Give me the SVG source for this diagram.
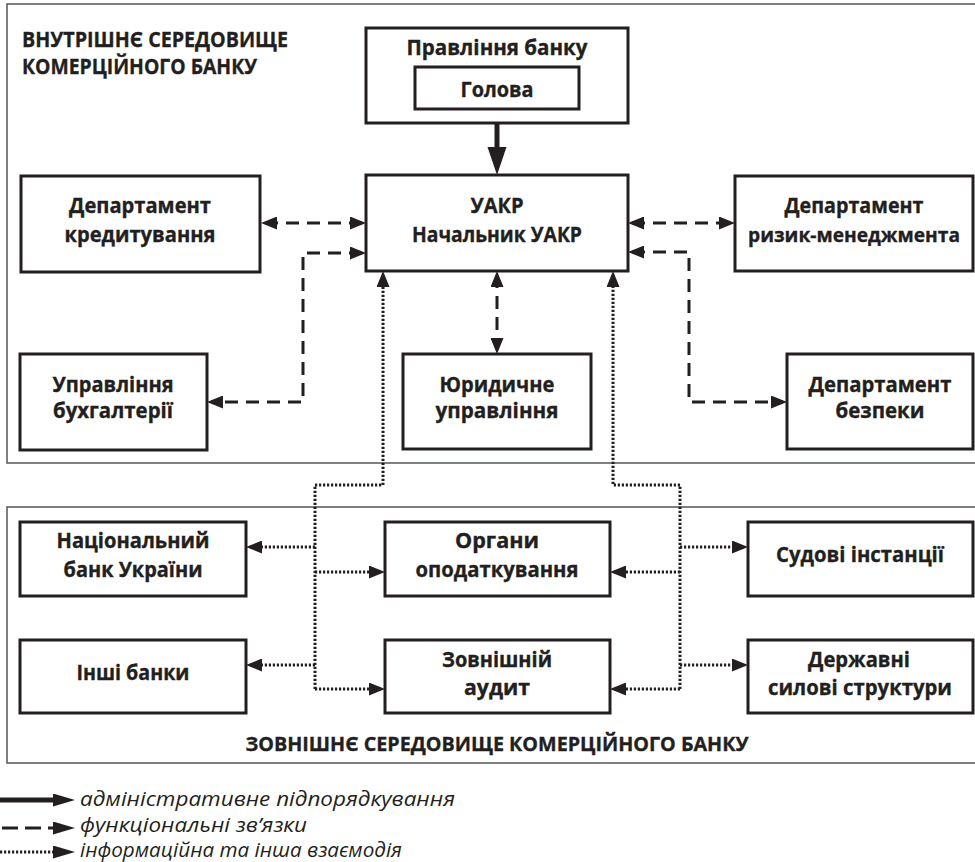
<svg xmlns="http://www.w3.org/2000/svg" width="975" height="862" viewBox="0 0 975 862">
<defs>
<style>
.env{fill:none;stroke:#555;stroke-width:1.5}
.box{fill:#fff;stroke:#231f20;stroke-width:3}
.t{font-family:"Open Sans","Noto Sans","DejaVu Sans",sans-serif;font-weight:700;font-size:21px;fill:#231f20;stroke:#231f20;stroke-width:0.35;text-anchor:middle}
.h{font-family:"Open Sans","Noto Sans","DejaVu Sans",sans-serif;font-weight:700;font-size:22px;fill:#231f20;stroke:#231f20;stroke-width:0.35}
.lg{font-family:"Open Sans","Noto Sans","DejaVu Sans",sans-serif;font-style:italic;font-size:19.5px;fill:#231f20}
.dash{fill:none;stroke:#231f20;stroke-width:3;stroke-dasharray:13 8}
.dot{fill:none;stroke:#231f20;stroke-width:3;stroke-dasharray:2.2 1.8}
.solid{fill:none;stroke:#231f20;stroke-width:5}
</style>
<marker id="ah" markerUnits="userSpaceOnUse" markerWidth="17" markerHeight="13" refX="12" refY="6.5" orient="auto-start-reverse"><path d="M0,0 L16,6.5 L0,13 z" fill="#231f20"/></marker>
<marker id="ahThick" markerUnits="userSpaceOnUse" markerWidth="29" markerHeight="20" refX="20" refY="9.5" orient="auto"><path d="M0,0 L28,9.5 L0,19 z" fill="#231f20"/></marker>
<marker id="ahLeg" markerUnits="userSpaceOnUse" markerWidth="23" markerHeight="13" refX="4" refY="6.5" orient="auto"><path d="M0,0 L22,6.5 L0,13 z" fill="#231f20"/></marker>
</defs>

<rect class="env" x="7" y="4" width="975" height="459"/>
<rect class="env" x="7" y="507" width="975" height="256"/>
<text class="h" x="22" y="47" textLength="266" lengthAdjust="spacingAndGlyphs">ВНУТРІШНЄ СЕРЕДОВИЩЕ</text>
<text class="h" x="22" y="74" textLength="235" lengthAdjust="spacingAndGlyphs">КОМЕРЦІЙНОГО БАНКУ</text>
<text class="t" x="497" y="751" style="font-size:20px" textLength="503" lengthAdjust="spacingAndGlyphs">ЗОВНІШНЄ СЕРЕДОВИЩЕ КОМЕРЦІЙНОГО БАНКУ</text>

<g id="connectors">
<path class="solid" d="M497,123 L497,167" marker-end="url(#ahThick)"/>
<path class="dash" d="M265,223 L362,223" marker-start="url(#ah)" marker-end="url(#ah)"/>
<path class="dash" d="M632,223 L731,223" marker-start="url(#ah)" marker-end="url(#ah)"/>
<path class="dash" d="M362,253 L303,253 L303,402 L211,402" marker-start="url(#ah)" marker-end="url(#ah)"/>
<path class="dash" d="M497,275 L497,350" marker-start="url(#ah)" marker-end="url(#ah)"/>
<path class="dash" d="M632,252 L689,252 L689,402 L783,402" marker-start="url(#ah)" marker-end="url(#ah)"/>
<path class="dot" d="M315,689 L315,485 L383,485 L383,275" marker-end="url(#ah)"/>
<path class="dot" d="M315,547 L250,547" marker-end="url(#ah)"/>
<path class="dot" d="M315,572 L381,572" marker-end="url(#ah)"/>
<path class="dot" d="M315,665 L250,665" marker-end="url(#ah)"/>
<path class="dot" d="M315,689 L381,689" marker-end="url(#ah)"/>
<path class="dot" d="M680,689 L680,485 L613,485 L613,275" marker-end="url(#ah)"/>
<path class="dot" d="M680,547 L744,547" marker-end="url(#ah)"/>
<path class="dot" d="M680,572 L614,572" marker-end="url(#ah)"/>
<path class="dot" d="M680,665 L744,665" marker-end="url(#ah)"/>
<path class="dot" d="M680,689 L614,689" marker-end="url(#ah)"/>
</g>

<g id="pravlinnya">
<rect class="box" x="366" y="28" width="262" height="95"/>
<text class="t" x="497" y="55" textLength="181" lengthAdjust="spacingAndGlyphs">Правління банку</text>
<rect class="box" x="415" y="67" width="164" height="42"/>
<text class="t" x="497" y="97" textLength="73" lengthAdjust="spacingAndGlyphs">Голова</text>
</g>

<g id="uakr">
<rect class="box" x="366" y="175" width="262" height="96"/>
<text class="t" x="497" y="213" textLength="53" lengthAdjust="spacingAndGlyphs">УАКР</text>
<text class="t" x="497" y="242" textLength="170" lengthAdjust="spacingAndGlyphs">Начальник УАКР</text>
</g>

<g id="kredytuvannya">
<rect class="box" x="21" y="176" width="239" height="96"/>
<text class="t" x="140" y="213" textLength="142" lengthAdjust="spacingAndGlyphs">Департамент</text>
<text class="t" x="140" y="242" textLength="151" lengthAdjust="spacingAndGlyphs">кредитування</text>
</g>

<g id="ryzyk">
<rect class="box" x="735" y="176" width="238" height="95"/>
<text class="t" x="854" y="213" textLength="139" lengthAdjust="spacingAndGlyphs">Департамент</text>
<text class="t" x="854" y="242" style="font-size:19.5px" textLength="212" lengthAdjust="spacingAndGlyphs">ризик-менеджмента</text>
</g>

<g id="bukhalteriya">
<rect class="box" x="20" y="354" width="187" height="96"/>
<text class="t" x="113" y="392" textLength="121" lengthAdjust="spacingAndGlyphs">Управління</text>
<text class="t" x="113" y="418" textLength="120" lengthAdjust="spacingAndGlyphs">бухгалтерії</text>
</g>

<g id="yurydychne">
<rect class="box" x="403" y="354" width="188" height="95"/>
<text class="t" x="497" y="392" textLength="115" lengthAdjust="spacingAndGlyphs">Юридичне</text>
<text class="t" x="497" y="418" textLength="123" lengthAdjust="spacingAndGlyphs">управління</text>
</g>

<g id="bezpeka">
<rect class="box" x="787" y="354" width="186" height="95"/>
<text class="t" x="880" y="392" textLength="143" lengthAdjust="spacingAndGlyphs">Департамент</text>
<text class="t" x="880" y="418" textLength="89" lengthAdjust="spacingAndGlyphs">безпеки</text>
</g>

<g id="nbu">
<rect class="box" x="20" y="522" width="226" height="74"/>
<text class="t" x="133" y="548" textLength="153" lengthAdjust="spacingAndGlyphs">Національний</text>
<text class="t" x="133" y="577" textLength="139" lengthAdjust="spacingAndGlyphs">банк України</text>
</g>

<g id="organy">
<rect class="box" x="385" y="522" width="225" height="74"/>
<text class="t" x="497" y="548" textLength="84" lengthAdjust="spacingAndGlyphs">Органи</text>
<text class="t" x="497" y="577" textLength="163" lengthAdjust="spacingAndGlyphs">оподаткування</text>
</g>

<g id="sudovi">
<rect class="box" x="748" y="522" width="225" height="74"/>
<text class="t" x="860" y="562" textLength="168" lengthAdjust="spacingAndGlyphs">Судові інстанції</text>
</g>

<g id="inshi">
<rect class="box" x="20" y="640" width="226" height="73"/>
<text class="t" x="133" y="680" textLength="113" lengthAdjust="spacingAndGlyphs">Інші банки</text>
</g>

<g id="audyt">
<rect class="box" x="385" y="640" width="225" height="73"/>
<text class="t" x="497" y="667" textLength="110" lengthAdjust="spacingAndGlyphs">Зовнішній</text>
<text class="t" x="497" y="695" textLength="66" lengthAdjust="spacingAndGlyphs">аудит</text>
</g>

<g id="derzhavni">
<rect class="box" x="748" y="640" width="225" height="73"/>
<text class="t" x="859" y="667" textLength="102" lengthAdjust="spacingAndGlyphs">Державні</text>
<text class="t" x="860" y="695" textLength="184" lengthAdjust="spacingAndGlyphs">силові структури</text>
</g>

<g id="legend">
<path class="solid" d="M0,800 L57,800" marker-end="url(#ahLeg)"/>
<path class="dash" style="stroke-dasharray:16 7" d="M2,828 L57,828" marker-end="url(#ahLeg)"/>
<path class="dot" d="M0,852 L57,852" marker-end="url(#ahLeg)"/>
<text class="lg" x="80" y="806" textLength="375" lengthAdjust="spacingAndGlyphs">адміністративне підпорядкування</text>
<text class="lg" x="80" y="832" textLength="227" lengthAdjust="spacingAndGlyphs">функціональні зв’язки</text>
<text class="lg" x="80" y="857" textLength="322" lengthAdjust="spacingAndGlyphs">інформаційна та інша взаємодія</text>
</g>
</svg>
